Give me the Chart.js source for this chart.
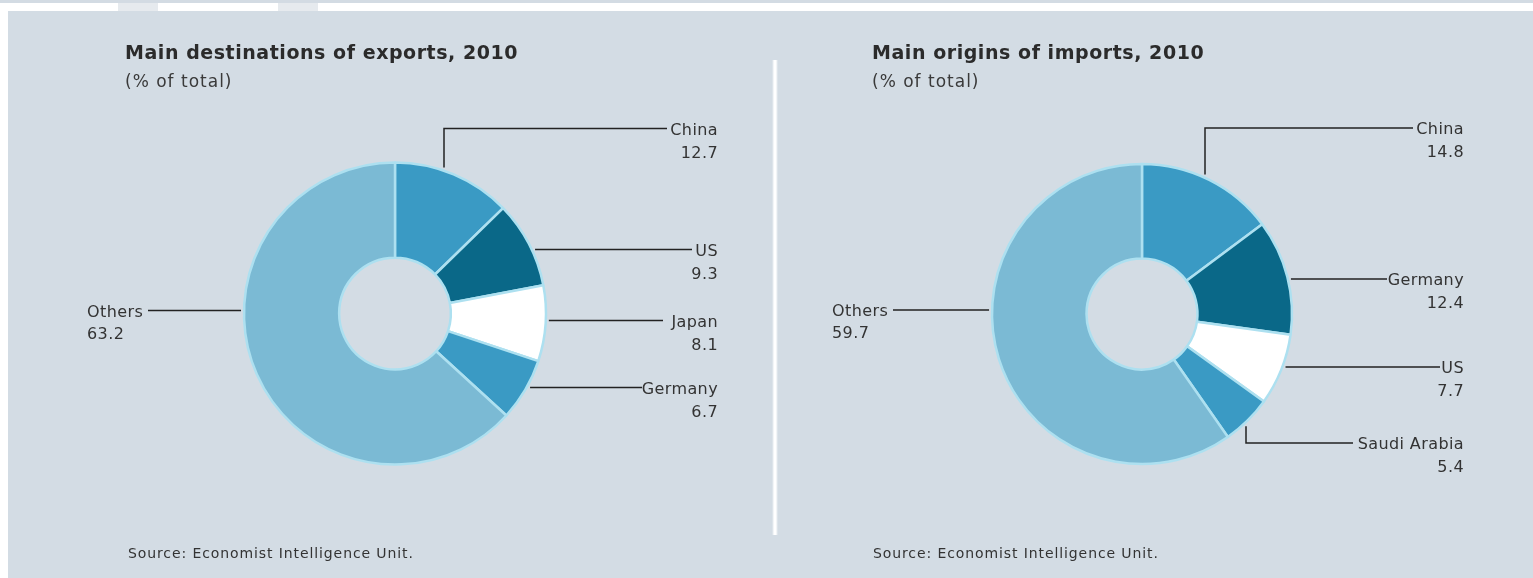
<!DOCTYPE html>
<html lang="en">
<head>
  <meta charset="UTF-8">
  <title>Main destinations of exports / origins of imports, 2010</title>
  <script src="https://cdn.jsdelivr.net/npm/chart.js"></script>
  <style>
    html, body { margin: 0; padding: 0; background: #fff; }
    body { width: 1533px; height: 578px; position: relative; overflow: hidden; font-family: "DejaVu Sans", sans-serif; color: #333; }
    .topband { position: absolute; left: 0; top: 0; width: 1533px; height: 3px; background: #d3dbe3; }
    .smudge { position: absolute; top: 3px; height: 8px; width: 40px; background: #e6eaee; }
    .panel { position: absolute; left: 8px; top: 11px; width: 1525px; height: 567px; background: #d3dce4; }
    .divider { position: absolute; left: 772px; top: 60px; width: 6px; height: 475px;
      background: linear-gradient(to right, rgba(255,255,255,0), #fff 35%, #fff 65%, rgba(255,255,255,0)); }
    .box { position: absolute; top: 0; height: 578px; }
    .title { position: absolute; font-weight: bold; font-size: 19px; line-height: 19px; letter-spacing: 0.55px; color: #2b2b2b; white-space: nowrap; }
    .sub { position: absolute; font-size: 17px; line-height: 17px; letter-spacing: 1px; color: #3a3a3a; white-space: nowrap; }
    .source { position: absolute; font-size: 14px; line-height: 14px; letter-spacing: 0.9px; color: #333; white-space: nowrap; }
  </style>
</head>
<body>
  <div class="topband"></div>
  <div class="smudge" style="left:118px"></div>
  <div class="smudge" style="left:278px"></div>
  <div class="panel"></div>
  <div class="divider"></div>

  <div class="box" style="left:0; width:773px;"><canvas id="exportsChart"></canvas></div>
  <div class="box" style="left:773px; width:760px;"><canvas id="importsChart"></canvas></div>

  <div class="title" style="left:125px; top:43px;">Main destinations of exports, 2010</div>
  <div class="sub" style="left:125px; top:73px;">(% of total)</div>
  <div class="source" style="left:128px; top:546px;">Source: Economist Intelligence Unit.</div>

  <div class="title" style="left:872px; top:43px;">Main origins of imports, 2010</div>
  <div class="sub" style="left:872px; top:73px;">(% of total)</div>
  <div class="source" style="left:873px; top:546px;">Source: Economist Intelligence Unit.</div>

  <script>
    // data (% of total)
    const exportLabels = ['China', 'US', 'Japan', 'Germany', 'Others'];
    const exportValues = [12.7, 9.3, 8.1, 6.7, 63.2];
    const importLabels = ['China', 'Germany', 'US', 'Saudi Arabia', 'Others'];
    const importValues = [14.8, 12.4, 7.7, 5.4, 59.7];

    const MID = '#3a9ac4', DARK = '#0a6888', LIGHT = '#7bbad4';
    const exportColors = [MID, DARK, '#ffffff', MID, LIGHT];
    const importColors = [MID, DARK, '#ffffff', MID, LIGHT];

    // leader lines, relative to pie centre (one per slice, same order)
    const exportCallouts = [
      { elbow: 49, y: -185, end: 272 },
      { y: -64, end: 297 },
      { y: 7, end: 268 },
      { y: 74, end: 247 },
      { left: true, y: -3, end: -247 }
    ];
    const importCallouts = [
      { elbow: 63, y: -186, end: 271 },
      { y: -35, end: 245 },
      { y: 53, end: 298 },
      { elbow: 104, y: 129, end: 211 },
      { left: true, y: -4, end: -249 }
    ];

    const calloutPlugin = {
      id: 'callouts',
      afterDraw(chart, args, opts) {
        const ctx = chart.ctx;
        const arc = chart.getDatasetMeta(0).data[0];
        const cx = arc.x, cy = arc.y, R = arc.outerRadius + 3;
        const ds = chart.data.datasets[0];
        ctx.save();
        ctx.strokeStyle = '#222';
        ctx.lineWidth = 1.5;
        ctx.fillStyle = '#333';
        ctx.font = '16px "DejaVu Sans", sans-serif';
        ctx.letterSpacing = '0.4px';
        ctx.textBaseline = 'middle';
        opts.items.forEach((c, i) => {
          const ly = cy + c.y;
          ctx.beginPath();
          if (c.elbow !== undefined) {
            const x = cx + c.elbow;
            const dy = Math.sqrt(R * R - c.elbow * c.elbow);
            ctx.moveTo(x, c.y < 0 ? cy - dy : cy + dy);
            ctx.lineTo(x, ly);
            ctx.lineTo(cx + c.end, ly);
          } else {
            const dx = Math.sqrt(R * R - c.y * c.y);
            ctx.moveTo(c.left ? cx - dx : cx + dx, ly);
            ctx.lineTo(cx + c.end, ly);
          }
          ctx.stroke();
          const name = chart.data.labels[i];
          const val = ds.data[i].toFixed(1);
          if (c.left) {
            ctx.textAlign = 'left';
            ctx.fillText(name, cx + opts.textLeft, ly + 2);
            ctx.fillText(val, cx + opts.textLeft, ly + 24);
          } else {
            ctx.textAlign = 'right';
            ctx.fillText(name, cx + opts.textRight, ly + 2);
            ctx.fillText(val, cx + opts.textRight, ly + 25);
          }
        });
        ctx.restore();
      }
    };

    function makeDonut(id, labels, values, colors, callouts, padding, radius, textLeft, textRight) {
      return new Chart(document.getElementById(id), {
        type: 'doughnut',
        data: {
          labels,
          datasets: [{
            data: values,
            backgroundColor: colors,
            borderColor: '#ade0f0',
            borderWidth: 2.5
          }]
        },
        options: {
          responsive: true,
          maintainAspectRatio: false,
          animation: false,
          events: [],
          radius: radius,
          cutout: '37%',
          layout: { padding },
          plugins: {
            legend: { display: false },
            tooltip: { enabled: false },
            callouts: { items: callouts, textLeft, textRight }
          }
        },
        plugins: [calloutPlugin]
      });
    }

    makeDonut('exportsChart', exportLabels, exportValues, exportColors, exportCallouts,
      { left: 17, right: 0, top: 49, bottom: 0 }, 151, -308, 323);
    makeDonut('importsChart', importLabels, importValues, importColors, importCallouts,
      { left: 0, right: 22, top: 50, bottom: 0 }, 150, -310, 322);
  </script>
</body>
</html>
